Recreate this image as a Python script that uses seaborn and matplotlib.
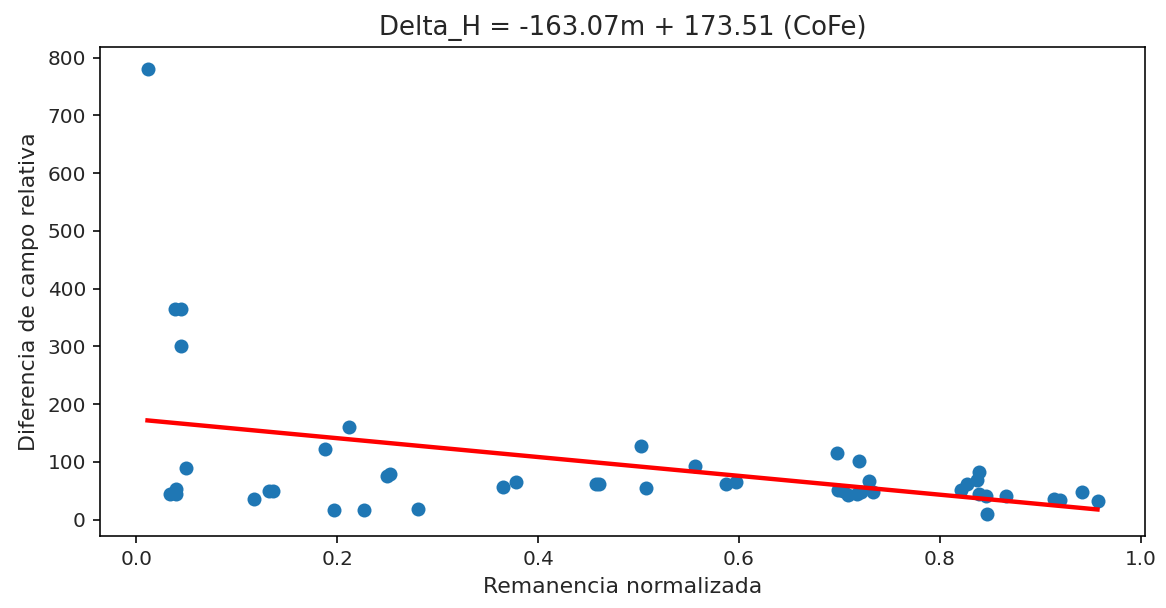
import matplotlib
matplotlib.use("Agg")
import matplotlib.pyplot as plt
import seaborn as sns
import numpy as np
import pandas as pd

# Normalised remanence (m) and relative field difference for the CoFe samples
remanence = [
    0.011, 0.038, 0.044, 0.044, 0.033, 0.039, 0.039, 0.049,
    0.117, 0.132, 0.136, 0.188, 0.197, 0.212, 0.227, 0.249,
    0.252, 0.280, 0.365, 0.378, 0.458, 0.461, 0.502, 0.507,
    0.556, 0.587, 0.597, 0.698, 0.720, 0.699, 0.704, 0.709,
    0.718, 0.721, 0.729, 0.733, 0.821, 0.827, 0.839, 0.837,
    0.839, 0.846, 0.847, 0.866, 0.914, 0.920, 0.942, 0.957,
]
delta_h = [
    780, 365, 365, 300, 44, 44, 53, 90,
    36, 49, 49, 123, 16, 161, 16, 76,
    79, 18, 57, 65, 62, 62, 127, 54,
    93, 62, 65, 115, 101, 52, 49, 42,
    45, 47, 66, 47, 52, 61, 82, 69,
    44, 41, 10, 41, 35, 33, 48, 32,
]

# Linear fit coefficients
slope = -163.07
intercept = 173.51

df = pd.DataFrame({"m": remanence, "dh": delta_h})

fig = plt.figure(figsize=(1166 / 144, 608 / 144), dpi=144)
ax = fig.add_axes([100 / 1166, 1 - 536 / 608, 1045 / 1166, 489 / 608])

sns.scatterplot(data=df, x="m", y="dh", ax=ax, color="#1f77b4",
                s=49, linewidth=0, zorder=2)

m_fit = np.array([df["m"].min(), df["m"].max()])
ax.plot(m_fit, slope * m_fit + intercept, color="red", linewidth=2.2, zorder=3)

text_color = "#262626"
ax.set_title(f"Delta_H = {slope:.2f}m + {intercept:.2f} (CoFe)",
             fontsize=13, color=text_color)
ax.set_xlabel("Remanencia normalizada", fontsize=11, color=text_color)
ax.set_ylabel("Diferencia de campo relativa", fontsize=11, color=text_color)
ax.tick_params(labelsize=10, labelcolor=text_color)

fig.savefig("out.png", dpi=144)
